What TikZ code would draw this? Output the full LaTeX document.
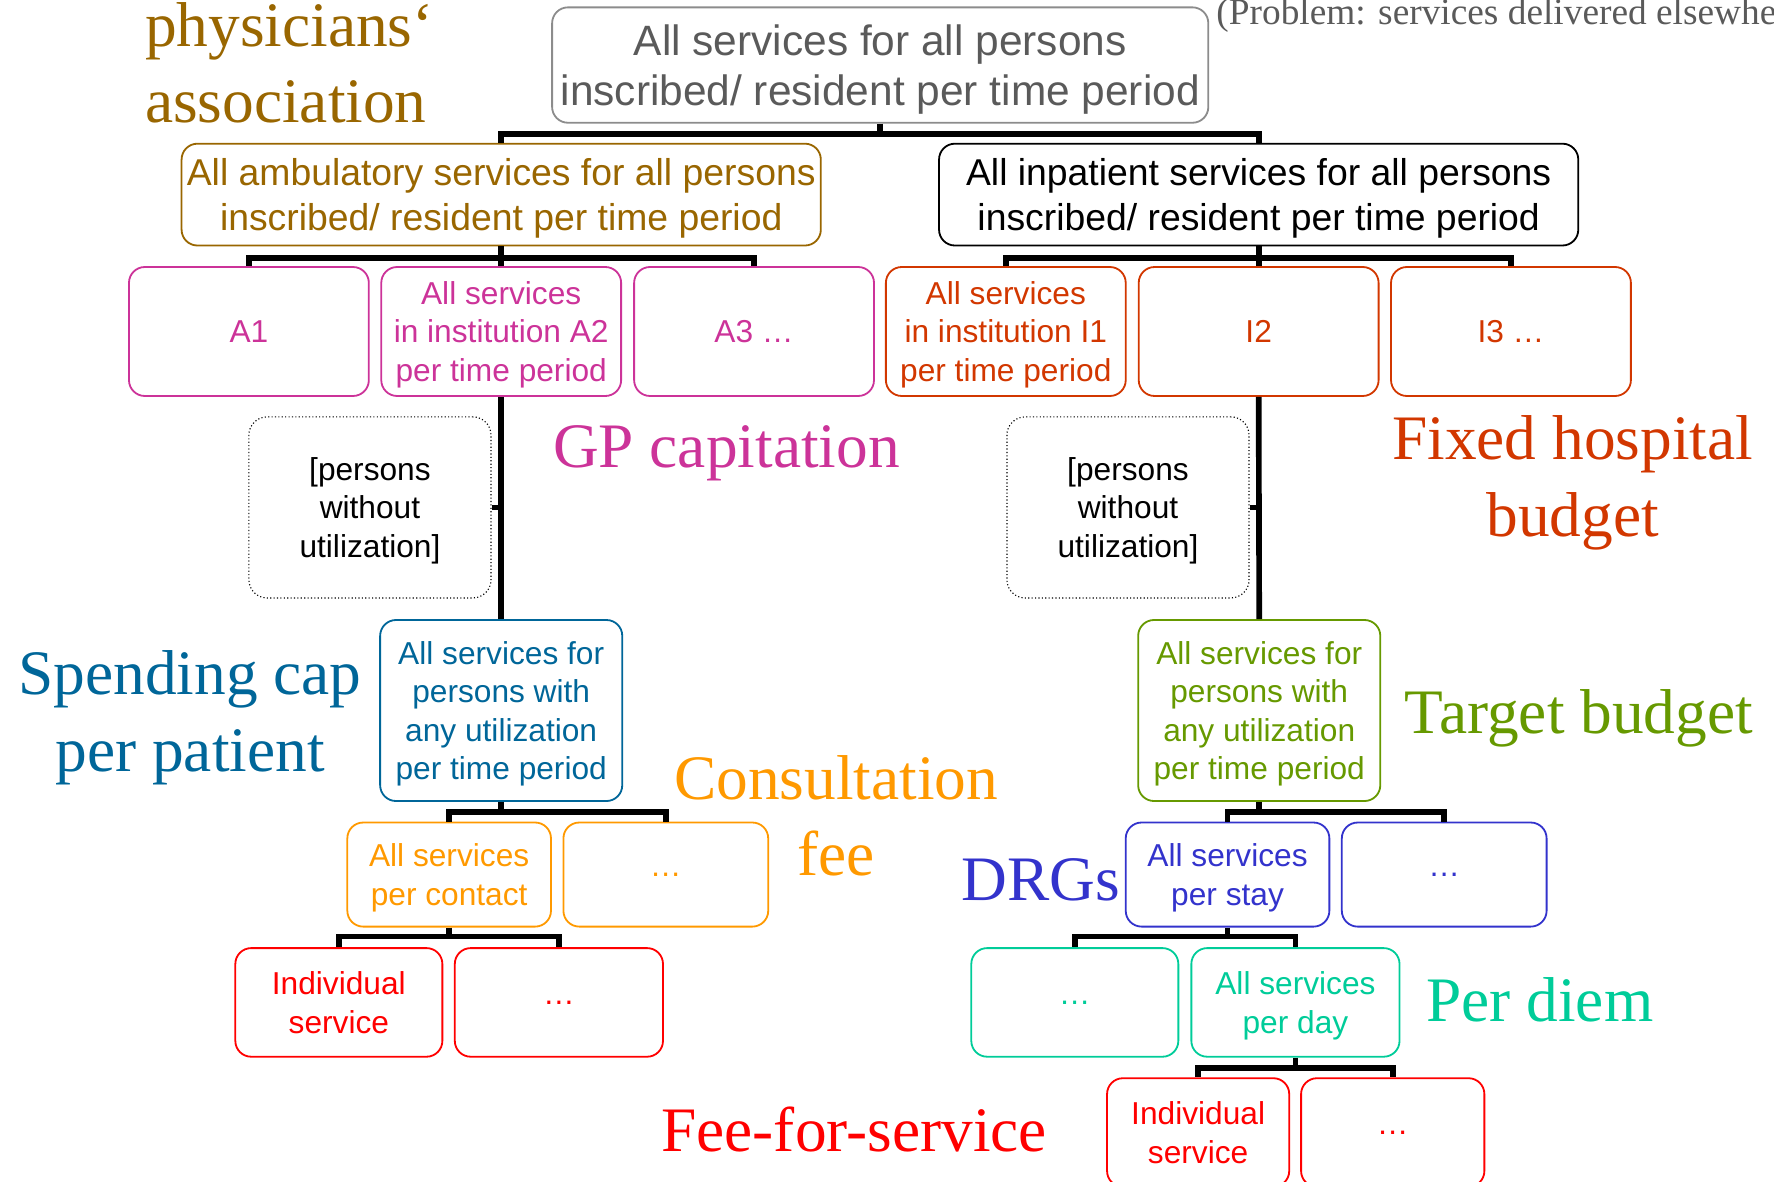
\documentclass[tikz,border=0pt]{standalone}
\usepackage{fontspec}
\setmainfont{Liberation Serif}
\newfontfamily\boxfont{Liberation Sans}
\newfontfamily\labfont{Liberation Serif}

\definecolor{cgold}{RGB}{153,102,0}
\definecolor{cmag}{RGB}{204,51,153}
\definecolor{chosp}{RGB}{210,55,0}
\definecolor{cspend}{RGB}{0,102,153}
\definecolor{ctarget}{RGB}{102,153,0}
\definecolor{corange}{RGB}{255,153,0}
\definecolor{cred}{RGB}{255,0,0}
\definecolor{cdrg}{RGB}{51,51,204}
\definecolor{cteal}{RGB}{0,204,153}
\definecolor{cgraytext}{RGB}{90,90,90}
\definecolor{cgrayline}{RGB}{140,140,140}

\tikzset{
  x=1pt, y=-1pt,
  box/.style={draw=#1, text=#1, rounded corners=14pt, line width=1.6pt,
    inner sep=0pt, align=center, text depth=0pt,
    font=\boxfont\fontsize{28}{34}\selectfont},
  bigbox/.style={box=#1, font=\boxfont\fontsize{33}{40}\selectfont},
  topbox/.style={draw=cgrayline, text=cgraytext, rounded corners=14pt,
    line width=1.6pt, inner sep=0pt, align=center, text depth=0pt,
    font=\boxfont\fontsize{37.5}{44}\selectfont},
  dotbox/.style={draw=black, line width=1pt, dash pattern=on 1pt off 2pt,
    rounded corners=16pt, inner sep=0pt, align=center, text depth=0pt,
    font=\boxfont\fontsize{28}{34}\selectfont,
    minimum width=214, minimum height=160},
  tier/.style={minimum width=212, minimum height=114},
  quad/.style={minimum width=214, minimum height=160},
  pair/.style={minimum width=181, minimum height=92},
  leaf/.style={minimum width=184, minimum height=96},
  lab/.style={text=#1, inner sep=0pt,
    font=\labfont\fontsize{56}{66}\selectfont},
  bus/.style={draw=black, line width=5pt},
}

\begin{document}
\begin{tikzpicture}
\useasboundingbox (0,0) rectangle (1568,1044);

% ---- top levels ----
\node[topbox, minimum width=580, minimum height=102] (top) at (778,57.5)
  {All services for all persons\\inscribed/ resident per time period};
\node[bigbox=cgold, minimum width=565, minimum height=90] (amb) at (443,172)
  {All ambulatory services for all persons\\inscribed/ resident per time period};
\node[bigbox=black, minimum width=565, minimum height=90] (inp) at (1112.5,172)
  {All inpatient services for all persons\\inscribed/ resident per time period};

% ---- institutions ----
\node[box=cmag, tier] (a1) at (220,293) {A1};
\node[box=cmag, tier] (a2) at (443,293) {All services\\in institution A2\\per time period};
\node[box=cmag, tier] (a3) at (666.5,293) {A3 \dots};
\node[box=chosp, tier] (i1) at (889,293) {All services\\in institution I1\\per time period};
\node[box=chosp, tier] (i2) at (1112.5,293) {I2};
\node[box=chosp, tier] (i3) at (1335.5,293) {I3 \dots};

% ---- persons without utilization ----
\node[dotbox] (dotA) at (327,448.5) {[persons\\without\\utilization]};
\node[dotbox] (dotI) at (997,448.5) {[persons\\without\\utilization]};

% ---- persons with utilization ----
\node[box=cspend, quad] (capA) at (443,628)
  {All services for\\persons with\\any utilization\\per time period};
\node[box=ctarget, quad] (capI) at (1113,628)
  {All services for\\persons with\\any utilization\\per time period};

% ---- ambulatory branch ----
\node[box=corange, pair, minimum width=180] (con1) at (397,773) {All services\\per contact};
\node[box=corange, pair] (con2) at (588.5,773) {\dots};
\node[box=cred, leaf, minimum width=183] (fl1) at (299.5,886) {Individual\\service};
\node[box=cred, leaf] (fl2) at (494,886) {\dots};

% ---- inpatient branch ----
\node[box=cdrg, pair, minimum width=180] (drg1) at (1085,773) {All services\\per stay};
\node[box=cdrg, pair] (drg2) at (1276.5,773) {\dots};
\node[box=cteal, leaf, minimum width=183] (pd1) at (950,886) {\dots};
\node[box=cteal, leaf] (pd2) at (1145,886) {All services\\per day};
\node[box=cred, leaf, minimum width=161] (fr1) at (1059,1001) {Individual\\service};
\node[box=cred, leaf, minimum width=162] (fr2) at (1231,1001) {\dots};

% ---- connectors ----
\draw[bus] (top.south) -- ++(0,9) coordinate (tb) -| (amb.north)
           (tb) -| (inp.north);
\draw[bus] (amb.south) -- ++(0,10) coordinate (ab) -| (a1.north)
           (ab) -| (a2.north) (ab) -| (a3.north);
\draw[bus] (inp.south) -- ++(0,10) coordinate (ib) -| (i1.north)
           (ib) -| (i2.north) (ib) -| (i3.north);
\draw[bus] (a2.south) -- (capA.north);
\draw[bus] (i2.south) -- (capI.north);
\draw[bus] (dotA.east) -- (dotA.east -| a2.south);
\draw[bus] (dotI.east) -- (dotI.east -| i2.south);
\draw[bus] (capA.south) -- ++(0,9) coordinate (cb) -| (con1.north)
           (cb) -| (con2.north);
\draw[bus] (con1.south) -- ++(0,8) coordinate (ob) -| (fl1.north)
           (ob) -| (fl2.north);
\draw[bus] (capI.south) -- ++(0,9) coordinate (gb) -| (drg1.north)
           (gb) -| (drg2.north);
\draw[bus] (drg1.south) -- ++(0,8) coordinate (db) -| (pd1.north)
           (db) -| (pd2.north);
\draw[bus] (pd2.south) -- ++(0,9) coordinate (pb) -| (fr1.north)
           (pb) -| (fr2.north);

% ---- payment labels ----
\node[lab=cgold, anchor=base west] (physA) at (128,41.5) {physicians‘};
\node[lab=cgold, anchor=base west] (physB) at (128,108) {association};
\node[lab=cmag, anchor=base] (gpcap) at (642,413) {GP capitation};
\node[lab=chosp, anchor=base] (fixA) at (1390,406) {Fixed hospital};
\node[lab=chosp, anchor=base] (fixB) at (1390,474.5) {budget};
\node[lab=cspend, anchor=base] (spendA) at (168,614) {Spending cap};
\node[lab=cspend, anchor=base] (spendB) at (168,681.5) {per patient};
\node[lab=corange, anchor=base] (consA) at (739,707) {Consultation};
\node[lab=corange, anchor=base] (consB) at (739,774) {fee};
\node[lab=ctarget, anchor=base] (tgt) at (1395.5,648) {Target budget};
\node[lab=cdrg, anchor=base] (drgs) at (920,795.5) {DRGs};
\node[lab=cteal, anchor=base] (perdiem) at (1361,903) {Per diem};
\node[lab=cred, anchor=base] (ffs) at (755,1018) {Fee-for-service};
\node[text=cgraytext, inner sep=0pt, anchor=base west,
      font=\labfont\fontsize{33}{40}\selectfont] (prob) at (1075,22)
  {(Problem: services delivered elsewhe};
\end{tikzpicture}
\end{document}
